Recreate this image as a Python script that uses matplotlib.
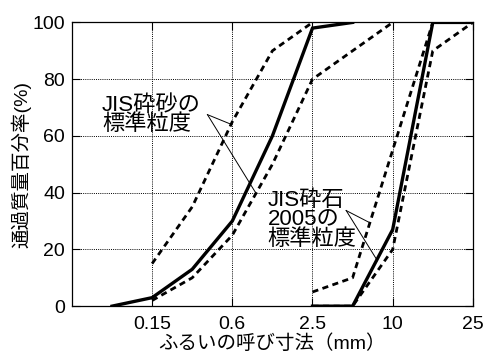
import matplotlib
matplotlib.use("Agg")
import matplotlib.pyplot as plt

plt.rcParams['font.family'] = ['Liberation Sans', 'Noto Sans CJK JP', 'DejaVu Sans']

# Sieve openings (mm), placed at equal spacing along the x axis
sieves = [0.075, 0.15, 0.3, 0.6, 1.2, 2.5, 5, 10, 20, 25]
tick_sieves = [0.15, 0.6, 2.5, 10, 25]
tick_labels = ["0.15", "0.6", "2.5", "10", "25"]

# Crushed sand: measured grading and JIS standard band
sand_sizes = [0.075, 0.15, 0.3, 0.6, 1.2, 2.5, 5]
sand_measured = [0, 3, 13, 30, 60, 98, 100]
sand_upper_sizes = [0.15, 0.3, 0.6, 1.2, 2.5]
sand_upper = [15, 35, 65, 90, 100]
sand_lower_sizes = [0.15, 0.3, 0.6, 1.2, 2.5, 5, 10]
sand_lower = [2, 10, 25, 50, 80, 90, 100]

# Crushed stone 2005: measured grading and JIS standard band
stone_sizes = [2.5, 5, 10, 20, 25]
stone_measured = [0, 0, 27, 100, 100]
stone_upper = [5, 10, 55, 100, 100]
stone_lower = [0, 0, 20, 90, 100]

pos = {s: i + 1 for i, s in enumerate(sieves)}


def xs(sizes):
    return [pos[s] for s in sizes]


fig = plt.figure(figsize=(4.86, 3.56), dpi=100)
ax = fig.add_axes([0.148, 0.14, 0.825, 0.797])

dash = (0, (2.2, 1.6))
ax.plot(xs(sand_upper_sizes), sand_upper, color='black', lw=2.0, ls=dash)
ax.plot(xs(sand_lower_sizes), sand_lower, color='black', lw=2.0, ls=dash)
ax.plot(xs(sand_sizes), sand_measured, color='black', lw=2.4, solid_joinstyle='miter')

ax.plot(xs(stone_sizes), stone_upper, color='black', lw=2.0, ls=dash)
ax.plot(xs(stone_sizes), stone_lower, color='black', lw=2.0, ls=dash)
ax.plot(xs(stone_sizes), stone_measured, color='black', lw=2.4, solid_joinstyle='miter')

ax.set_xlim(0, 10)
ax.set_ylim(0, 100)
ax.set_xticks(xs(tick_sieves))
ax.set_xticklabels(tick_labels)
ax.set_yticks([0, 20, 40, 60, 80, 100])

ax.grid(True, color='black', lw=0.7, ls=(0, (1.0, 1.2)))
ax.tick_params(direction='in', length=6, width=0.8, top=True, right=True,
               labelsize=14, pad=5)
ax.tick_params(axis='x', pad=7)
for sp in ax.spines.values():
    sp.set_linewidth(0.9)

ax.set_xlabel("ふるいの呼び寸法（mm）", fontsize=14, labelpad=1)
ax.set_ylabel("通過質量百分率(%)", fontsize=14, labelpad=1)

# Callouts for the standard bands
ax.text(0.75, 74.5, "JIS砕砂の\n標準粒度", fontsize=16, va='top', ha='left',
        linespacing=0.92)
ax.plot([3.38, 3.97], [67.5, 64.1], color='black', lw=0.7)
ax.plot([3.38, 4.59], [67.5, 39.8], color='black', lw=0.7)

ax.text(4.88, 41, "JIS砕石\n2005の\n標準粒度", fontsize=16, va='top', ha='left',
        linespacing=0.92)
ax.plot([6.84, 7.43], [33.7, 29.4], color='black', lw=0.7)
ax.plot([6.84, 7.62], [33.7, 16.0], color='black', lw=0.7)

fig.savefig("out.png", dpi=100)
